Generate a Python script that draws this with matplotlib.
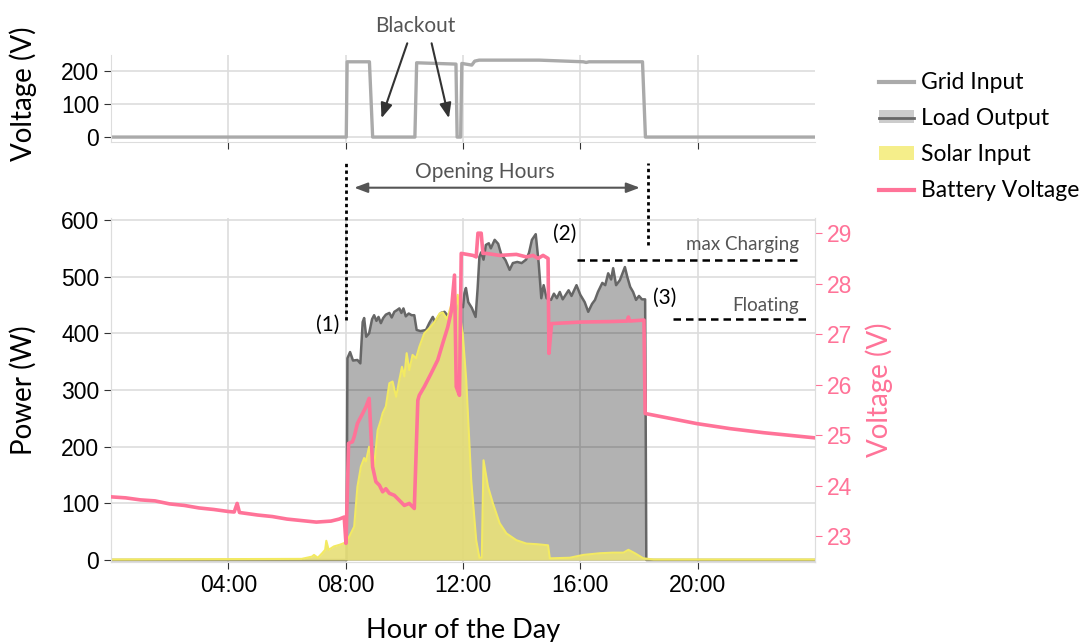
import matplotlib
matplotlib.use("Agg")
import matplotlib.pyplot as plt
from matplotlib.lines import Line2D
from matplotlib.patches import Patch
from matplotlib.ticker import FuncFormatter

# grid voltage (V) over hour of day
grid_t = [0, 8.02, 8.05, 8.81, 8.92, 10.36, 10.42, 11.76, 11.80, 11.92, 11.96, 12.30, 12.40, 12.55,
          14.6, 16.1, 16.2, 16.3, 18.12, 18.22, 24]
grid_v = [0, 0, 228, 228, 0, 0, 225, 221, 0, 0, 223, 218, 230, 233,
          233, 228, 226, 228, 228, 0, 0]

# load output (W)
load_t = [0, 8.03, 8.06, 8.15, 8.25, 8.40, 8.50, 8.58, 8.63, 8.70, 8.80, 8.90, 8.97, 9.05, 9.12, 9.20,
          9.28, 9.37, 9.49, 9.57, 9.66, 9.75, 9.83, 9.90, 9.97, 10.05, 10.15, 10.25, 10.34, 10.42,
          10.55, 10.74, 10.85, 10.97, 11.05, 11.15, 11.25, 11.37, 11.50, 11.60, 11.72, 11.85, 11.94,
          12.00, 12.05, 12.10, 12.18, 12.30, 12.43, 12.50, 12.56, 12.62, 12.70, 12.78, 12.88, 12.95,
          13.08, 13.20, 13.30, 13.45, 13.59, 13.70, 13.85, 14.00, 14.15, 14.25, 14.35, 14.48, 14.58,
          14.67, 14.75, 14.85, 15.00, 15.10, 15.20, 15.30, 15.40, 15.50, 15.60, 15.70, 15.87, 16.00,
          16.15, 16.27, 16.40, 16.50, 16.60, 16.75, 16.85, 16.95, 17.05, 17.12, 17.22, 17.35, 17.52,
          17.60, 17.70, 17.80, 17.90, 18.00, 18.10, 18.21, 18.25, 24]
load_w = [0, 0, 356, 367, 352, 353, 347, 420, 427, 394, 400, 425, 432, 422, 429, 418,
          427, 433, 436, 428, 438, 441, 444, 436, 444, 430, 435, 432, 432, 406,
          404, 406, 418, 429, 420, 428, 436, 438, 430, 442, 436, 450, 450,
          446, 471, 480, 455, 445, 429, 480, 535, 543, 530, 556, 559, 550,
          565, 558, 540, 529, 512, 524, 526, 524, 530, 542, 565, 575, 524,
          462, 485, 462, 459, 470, 462, 473, 460, 468, 476, 466, 485, 468,
          455, 438, 452, 459, 473, 489, 485, 506, 495, 515, 485, 494, 517,
          500, 482, 473, 459, 466, 460, 460, 0, 0]

# solar input (W)
solar_t = [0, 6.5, 6.85, 6.92, 7.05, 7.20, 7.30, 7.34, 7.42, 7.6, 7.8, 7.95, 8.05, 8.12, 8.29, 8.40,
           8.52, 8.63, 8.69, 8.80, 8.90, 8.97, 9.09, 9.20, 9.26, 9.37, 9.49, 9.60, 9.72, 9.83, 9.92,
           10.0, 10.08, 10.17, 10.28, 10.40, 10.51, 10.68, 10.85, 11.03, 11.20, 11.31, 11.45, 11.60,
           11.72, 11.82, 11.90, 11.99, 12.11, 12.28, 12.45, 12.56, 12.64, 12.70, 12.85, 13.02, 13.25,
           13.48, 13.82, 14.16, 14.50, 14.90, 14.96, 15.64, 16.10, 16.67, 17.12, 17.47, 17.64, 17.86,
           18.15, 18.5, 24]
solar_w = [1, 2, 6, 9, 4, 12, 18, 34, 18, 24, 27, 30, 35, 41, 59, 129,
           165, 180, 174, 200, 176, 165, 229, 247, 259, 271, 312, 315, 288, 318, 341,
           324, 365, 335, 362, 356, 376, 400, 409, 420, 435, 437, 425, 450,
           440, 468, 430, 400, 318, 141, 35, 4, 4, 176, 130, 100, 65,
           47, 35, 29, 28, 26, 3, 4, 9, 12, 13, 13, 18, 12,
           3, 1, 1]

# battery voltage (V)
batt_t = [0, 0.5, 1.0, 1.5, 2.0, 2.5, 3.0, 3.5, 4.0, 4.2, 4.3, 4.38, 5.0, 5.5, 6.0, 6.5, 7.0, 7.5,
          7.78, 7.95, 8.01, 8.10, 8.23, 8.29, 8.40, 8.46, 8.58, 8.69, 8.80, 8.92, 9.03, 9.15, 9.26,
          9.37, 9.49, 9.66, 9.83, 10.0, 10.17, 10.34, 10.46, 10.51, 10.68, 10.91, 11.14, 11.31, 11.48,
          11.60, 11.71, 11.77, 11.88, 11.94, 12.34, 12.45, 12.51, 12.62, 12.68, 12.79, 13.25, 13.82,
          14.16, 14.39, 14.56, 14.73, 14.90, 14.93, 15.02, 16.0, 17.0, 17.60, 17.64, 17.68, 18.17,
          18.21, 19.97, 21.11, 22.25, 23.96]
batt_v = [23.78, 23.76, 23.72, 23.70, 23.64, 23.61, 23.56, 23.53, 23.49, 23.48, 23.65, 23.47, 23.42,
          23.39, 23.34, 23.31, 23.28, 23.30, 23.34, 23.38, 22.86, 24.84, 24.87, 24.97, 25.23, 25.30,
          25.43, 25.56, 25.73, 24.37, 24.08, 24.01, 23.88, 23.94, 23.85, 23.81, 23.71, 23.61, 23.65,
          23.55, 25.69, 25.79, 25.96, 26.22, 26.49, 26.82, 27.14, 27.45, 28.17, 25.96, 25.79, 28.60,
          28.56, 28.53, 29.0, 29.0, 28.60, 28.60, 28.56, 28.58, 28.53, 28.56, 28.50, 28.56, 28.50,
          26.62, 27.21, 27.24, 27.25, 27.26, 27.34, 27.26, 27.28, 25.43, 25.23, 25.13, 25.05, 24.95]

hour_ticks = [4, 8, 12, 16, 20]
max_charging = 28.47
floating = 27.30

PINK = "#ff7398"
GRIDC = "#dddddd"
TXT = "#555555"
plt.rcParams["font.family"] = ["Lato", "DejaVu Sans"]

fig = plt.figure(figsize=(10.81, 6.42), dpi=100)
ax_top = fig.add_axes([0.1027, 0.7793, 0.6512, 0.135])
ax = fig.add_axes([0.1027, 0.1246, 0.6512, 0.5358])
ax2 = ax.twinx()

TICK_FS = 16.5
LABEL_FS = 20

# top panel: grid voltage
ax_top.plot(grid_t, grid_v, color="#aaaaaa", lw=2.4)
ax_top.set_xlim(0, 24)
ax_top.set_ylim(-14, 248.5)
ax_top.set_yticks([0, 100, 200])
ax_top.set_xticks(hour_ticks)
ax_top.set_xticklabels([])
ax_top.grid(color=GRIDC, lw=1.2)
ax_top.set_axisbelow(True)
for s in ["top", "right"]:
    ax_top.spines[s].set_visible(False)
for s in ["left", "bottom"]:
    ax_top.spines[s].set_color(GRIDC)
ax_top.tick_params(length=5, color="#333333", labelsize=TICK_FS)
for lab in ax_top.get_yticklabels():
    lab.set_fontfamily("Liberation Sans")
ax_top.set_ylabel("Voltage (V)", fontsize=LABEL_FS)
ax_top.yaxis.set_label_coords(-0.105, 0.55)

ax_top.text(10.38, 336, "Blackout", ha="center", va="center", fontsize=15, color=TXT)
for tail, head in [((10.10, 284), (9.22, 57)), ((10.93, 284), (11.52, 57))]:
    ax_top.annotate("", xy=head, xytext=tail, annotation_clip=False,
                    arrowprops=dict(arrowstyle="-|>,head_length=0.9,head_width=0.35", color="#333333",
                                    lw=1.5, shrinkA=0, shrinkB=0))

# main panel: power
ax.fill_between(load_t, load_w, color="black", alpha=0.3, lw=0, zorder=2)
ax.plot(load_t, load_w, color="#666666", lw=1.8, zorder=3)
ax.fill_between(solar_t, solar_w, color="#e8e07a", alpha=0.92, lw=0, zorder=4)
ax.plot(solar_t, solar_w, color="#f3ea62", lw=1.5, zorder=5)

ax.set_xlim(0, 24)
ax.set_ylim(-3.5, 603.5)
ax.set_yticks([0, 100, 200, 300, 400, 500, 600])
ax.set_xticks(hour_ticks)
ax.xaxis.set_major_formatter(FuncFormatter(lambda h, p: f"{int(h):02d}:00"))
ax.grid(color=GRIDC, lw=1.2)
ax.set_axisbelow(True)
ax.spines["top"].set_visible(False)
for s in ["left", "bottom", "right"]:
    ax.spines[s].set_color(GRIDC)
ax.tick_params(length=5, color="#333333", labelsize=TICK_FS)
for lab in ax.get_yticklabels() + ax.get_xticklabels():
    lab.set_fontfamily("Liberation Sans")
ax.set_ylabel("Power (W)", fontsize=LABEL_FS)
ax.yaxis.set_label_coords(-0.105, 0.5)
ax.set_xlabel("Hour of the Day", fontsize=19.5)
ax.xaxis.set_label_coords(0.5, -0.162)

# battery voltage on the right axis
ax2.plot(batt_t, batt_v, color=PINK, lw=2.6, zorder=6)
ax2.set_ylim(22.49, 29.30)
ax2.set_yticks([23, 24, 25, 26, 27, 28, 29])
ax2.tick_params(length=5, color=PINK, labelcolor=PINK, labelsize=TICK_FS)
for lab in ax2.get_yticklabels():
    lab.set_fontfamily("Liberation Sans")
ax2.spines["top"].set_visible(False)
for s in ["left", "bottom", "right"]:
    ax2.spines[s].set_color(GRIDC)
ax2.set_ylabel("Voltage (V)", fontsize=LABEL_FS, color=PINK)
ax2.yaxis.set_label_coords(1.072, 0.5)

ax2.plot([15.87, 23.5], [max_charging, max_charging], color="black", lw=1.8, ls=(0, (3, 2)))
ax2.plot([19.17, 23.68], [floating, floating], color="black", lw=1.8, ls=(0, (3, 2)))
ax.text(23.45, 556, "max Charging", ha="right", va="center", fontsize=13.5, color=TXT)
ax.text(23.45, 450, "Floating", ha="right", va="center", fontsize=13.5, color=TXT)

# opening hours
ax.plot([8.0, 8.0], [423, 700], color="black", lw=2, ls=(0, (1.2, 1.2)), clip_on=False)
ax.plot([18.32, 18.32], [556, 700], color="black", lw=2, ls=(0, (1.2, 1.2)), clip_on=False)
ax.annotate("", xy=(8.29, 657), xytext=(18.03, 657), annotation_clip=False,
            arrowprops=dict(arrowstyle="<|-|>,head_length=0.8,head_width=0.3", color=TXT,
                            lw=1.5, shrinkA=0, shrinkB=0))
ax.text(12.74, 685, "Opening Hours", ha="center", va="center", fontsize=15, color=TXT)

ax.text(7.37, 415, "(1)", ha="center", va="center", fontsize=15)
ax.text(15.47, 576, "(2)", ha="center", va="center", fontsize=15)
ax.text(18.89, 462, "(3)", ha="center", va="center", fontsize=15)

handles = [
    Line2D([], [], color="#aaaaaa", lw=3),
    (Patch(facecolor="#cccccc", edgecolor="none"), Line2D([], [], color="#666666", lw=2)),
    Patch(facecolor="#f5ee8a", edgecolor="none"),
    Line2D([], [], color=PINK, lw=3),
]
labels = ["Grid Input", "Load Output", "Solar Input", "Battery Voltage"]
fig.legend(handles, labels, loc="upper left", bbox_to_anchor=(0.813, 0.888), frameon=False,
           fontsize=16.5, handlelength=1.53, handleheight=0.5, handletextpad=0.3, labelspacing=0.66,
           borderaxespad=0, borderpad=0)

fig.savefig("out.png", dpi=100)
